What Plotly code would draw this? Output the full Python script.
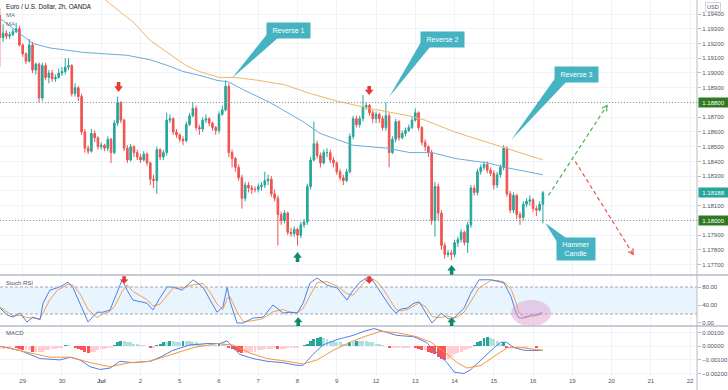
import numpy as np
import plotly.graph_objects as go

# ---------------- data (EUR/USD 2h, OANDA) ----------------
# candle index 0 = first 2h candle of 29 Jun; 12 candles per trading day
day_ticks = [0, 12, 24, 36, 48, 60, 72, 84, 96, 108, 120, 132, 144, 156, 168, 180, 192, 204]
day_labels = ["29", "30", "<b>Jul</b>", "2", "5", "6", "7", "8", "9", "12", "13", "14",
              "15", "16", "19", "20", "21", "22"]
first_candle = -7
first_open = 1.1939

close = [
    1.1924, 1.1927, 1.1925, 1.1926, 1.1928, 1.1930, 1.1919,
    1.1913, 1.1908, 1.1919, 1.1902, 1.1906, 1.1883, 1.1905, 1.1897, 1.1900, 1.1896, 1.1897, 1.1900,
    1.1901, 1.1904, 1.1905, 1.1886, 1.1890, 1.1884, 1.1860, 1.1849, 1.1847, 1.1859, 1.1856, 1.1850,
    1.1851, 1.1849, 1.1855, 1.1846, 1.1866, 1.1880, 1.1868, 1.1849, 1.1841, 1.1850, 1.1846, 1.1843,
    1.1841, 1.1845, 1.1839, 1.1828, 1.1827, 1.1848, 1.1843, 1.1846, 1.1868, 1.1869, 1.1860, 1.1858,
    1.1855, 1.1854, 1.1865, 1.1871, 1.1876, 1.1863, 1.1862, 1.1868, 1.1869, 1.1866, 1.1863, 1.1861,
    1.1872, 1.1875, 1.1891, 1.1846, 1.1842, 1.1836, 1.1829, 1.1815, 1.1824, 1.1822, 1.1821, 1.1821,
    1.1823, 1.1824, 1.1827, 1.1828, 1.1818, 1.1815, 1.1804, 1.1800, 1.1805, 1.1792, 1.1791, 1.1794,
    1.1790, 1.1797, 1.1799, 1.1823, 1.1841, 1.1852, 1.1844, 1.1839, 1.1846, 1.1846, 1.1841, 1.1839,
    1.1833, 1.1829, 1.1827, 1.1833, 1.1857, 1.1869, 1.1865, 1.1869, 1.1877, 1.1878, 1.1873, 1.1869,
    1.1872, 1.1869, 1.1863, 1.1871, 1.1846, 1.1855, 1.1867, 1.1856, 1.1859, 1.1861, 1.1863, 1.1868,
    1.1873, 1.1863, 1.1853, 1.1850, 1.1846, 1.1800, 1.1823, 1.1805, 1.1783, 1.1777, 1.1778, 1.1777,
    1.1785, 1.1787, 1.1792, 1.1785, 1.1797, 1.1822, 1.1819, 1.1833, 1.1836, 1.1838, 1.1834, 1.1832,
    1.1824, 1.1831, 1.1836, 1.1849, 1.1818, 1.1807, 1.1817, 1.1804, 1.1802, 1.1811, 1.1813, 1.1814,
    1.1808, 1.1807, 1.1811, 1.18188,
]
high = [
    1.1944, 1.1933, 1.1929, 1.1928, 1.1930, 1.1934, 1.1932,
    1.1920, 1.1914, 1.1923, 1.1921, 1.1907, 1.1907, 1.1907, 1.1907, 1.1902, 1.1902, 1.1899, 1.1903,
    1.1904, 1.1910, 1.1910, 1.1906, 1.1893, 1.1891, 1.1886, 1.1862, 1.1851, 1.1862, 1.1861, 1.1857,
    1.1853, 1.1852, 1.1857, 1.1856, 1.1868, 1.1884, 1.1881, 1.1869, 1.1851, 1.1852, 1.1851, 1.1848,
    1.1845, 1.1847, 1.1846, 1.1840, 1.1831, 1.1850, 1.1849, 1.1848, 1.1873, 1.1872, 1.1870, 1.1862,
    1.1859, 1.1857, 1.1867, 1.1873, 1.1880, 1.1878, 1.1865, 1.1870, 1.1872, 1.1870, 1.1867, 1.1864,
    1.1874, 1.1878, 1.1895, 1.1893, 1.1848, 1.1843, 1.1838, 1.1831, 1.1826, 1.1826, 1.1824, 1.1823,
    1.1825, 1.1826, 1.1833, 1.1831, 1.1830, 1.1821, 1.1817, 1.1806, 1.1807, 1.1806, 1.1795, 1.1796,
    1.1795, 1.1799, 1.1801, 1.1825, 1.1843, 1.1867, 1.1854, 1.1846, 1.1848, 1.1849, 1.1848, 1.1843,
    1.1840, 1.1835, 1.1831, 1.1835, 1.1859, 1.1871, 1.1871, 1.1871, 1.1885, 1.1880, 1.1879, 1.1875,
    1.1874, 1.1873, 1.1871, 1.1880, 1.1873, 1.1857, 1.1869, 1.1868, 1.1861, 1.1863, 1.1865, 1.1870,
    1.1876, 1.1874, 1.1864, 1.1855, 1.1851, 1.1848, 1.1826, 1.1825, 1.1807, 1.1785, 1.1780, 1.1780,
    1.1787, 1.1789, 1.1794, 1.1793, 1.1799, 1.1824, 1.1824, 1.1835, 1.1838, 1.1840, 1.1840, 1.1836,
    1.1834, 1.1833, 1.1838, 1.1851, 1.1850, 1.1820, 1.1819, 1.1818, 1.1806, 1.1813, 1.1815, 1.1817,
    1.1815, 1.1810, 1.1813, 1.1820,
]
low = [
    1.1904, 1.1921, 1.1923, 1.1923, 1.1925, 1.1927, 1.1918,
    1.1911, 1.1906, 1.1907, 1.1900, 1.1899, 1.1880, 1.1881, 1.1895, 1.1893, 1.1894, 1.1894, 1.1896,
    1.1898, 1.1899, 1.1902, 1.1884, 1.1884, 1.1881, 1.1858, 1.1846, 1.1845, 1.1846, 1.1853, 1.1848,
    1.1848, 1.1847, 1.1847, 1.1839, 1.1845, 1.1864, 1.1866, 1.1847, 1.1839, 1.1840, 1.1843, 1.1841,
    1.1839, 1.1840, 1.1837, 1.1824, 1.1822, 1.1818, 1.1841, 1.1841, 1.1844, 1.1866, 1.1858, 1.1856,
    1.1853, 1.1851, 1.1853, 1.1864, 1.1870, 1.1861, 1.1858, 1.1860, 1.1866, 1.1864, 1.1861, 1.1858,
    1.1859, 1.1871, 1.1874, 1.1843, 1.1836, 1.1833, 1.1827, 1.1808, 1.1813, 1.1819, 1.1818, 1.1819,
    1.1819, 1.1820, 1.1822, 1.1824, 1.1816, 1.1813, 1.1783, 1.1797, 1.1798, 1.1790, 1.1789, 1.1789,
    1.1783, 1.1788, 1.1795, 1.1797, 1.1821, 1.1840, 1.1842, 1.1836, 1.1838, 1.1843, 1.1839, 1.1836,
    1.1831, 1.1827, 1.1824, 1.1826, 1.1832, 1.1855, 1.1863, 1.1863, 1.1867, 1.1875, 1.1871, 1.1866,
    1.1866, 1.1866, 1.1861, 1.1861, 1.1836, 1.1845, 1.1853, 1.1854, 1.1855, 1.1857, 1.1860, 1.1862,
    1.1867, 1.1861, 1.1851, 1.1847, 1.1843, 1.1797, 1.1789, 1.1800, 1.1780, 1.1774, 1.1775, 1.1773,
    1.1775, 1.1782, 1.1785, 1.1783, 1.1778, 1.1795, 1.1817, 1.1817, 1.1831, 1.1834, 1.1832, 1.1830,
    1.1821, 1.1822, 1.1829, 1.1834, 1.1816, 1.1805, 1.1805, 1.1801, 1.1797, 1.1800, 1.1809, 1.1810,
    1.1806, 1.1803, 1.1806, 1.1798,
]

# moving averages (read at candle positions)
ma_blue_x = [-6.9, -0.8, 3.1, 8.3, 18.4, 31.9, 38.9, 44.4, 49.0, 54.8, 59.4, 62.8, 68.0, 75.6,
             85.7, 90.9, 101.0, 111.4, 118.4, 125.1, 132.2, 142.2, 147.4, 159.0]
ma_blue = [1.1937, 1.1927, 1.1920, 1.1917, 1.1914, 1.1912, 1.1909, 1.1905, 1.1901, 1.1898, 1.1895,
           1.1894, 1.1888, 1.1880, 1.1867, 1.1859, 1.1851, 1.1849, 1.1846, 1.1846, 1.1842, 1.1839,
           1.1836, 1.1831]
ma_orange_x = [11, 25, 34, 39, 50, 54, 60, 65, 72, 80, 88, 96, 106, 118, 123, 132, 142, 152, 159]
ma_orange = [1.1977, 1.1950, 1.1934, 1.1922, 1.1905, 1.1901, 1.1897, 1.1897, 1.1895, 1.1892,
             1.1886, 1.1881, 1.1876, 1.1871, 1.1868, 1.1860, 1.1853, 1.1846, 1.1841]

# Stoch RSI
stoch_x = [-6.9, -4.8, -3.0, -0.8, 1.3, 3.1, 5.3, 6.2, 8.3, 10.5, 12.3, 13.8, 15.4, 17.5, 20.0,
           22.7, 24.5, 26.7, 28.2, 30.4, 31.9, 33.7, 38.0, 39.8, 42.0, 44.1, 46.0, 48.7, 52.1,
           55.1, 57.3, 59.4, 61.2, 62.5, 63.4, 65.5, 67.4, 70.4, 73.5, 76.5, 79.6, 81.7, 83.9,
           85.7, 87.8, 90.0, 93.0, 96.1, 99.1, 101.0, 103.1, 105.0, 106.5, 108.3, 110.5, 112.6,
           114.1, 115.6, 117.5, 119.6, 121.2, 123.3, 125.1, 127.9, 129.7, 131.3, 132.8, 134.9,
           137.0, 139.5, 143.2, 145.6, 147.1, 149.3, 150.8, 151.7, 153.3, 155.4, 157.2, 158.7]
stoch_k = [33, 18, 13, 22, 2, 13, 7, 44, 73, 78, 84, 91, 78, 44, 2, 24, 24, 29, 58, 96,
           73, 51, 44, 29, 56, 80, 80, 73, 96, 80, 51, 24, 36, 80, 47, 0, 0, 11, 13, 40,
           22, 24, 22, 44, 89, 100, 84, 78, 51, 73, 91, 100, 100, 80, 56, 33, 22, 31, 33, 44,
           47, 22, 0, 22, 11, 7, 18, 33, 67, 96, 96, 91, 89, 58, 22, 11, 11, 18, 18, 24]
stoch_d = [35, 25, 16, 17, 12, 11, 10, 22, 52, 72, 80, 86, 84, 65, 30, 12, 20, 26, 38, 70,
           85, 70, 52, 38, 42, 62, 78, 78, 85, 88, 68, 42, 30, 55, 58, 25, 3, 5, 10, 25,
           30, 24, 23, 32, 62, 90, 92, 82, 65, 62, 80, 95, 100, 92, 72, 48, 30, 27, 30, 38,
           45, 35, 14, 12, 16, 12, 13, 24, 48, 78, 95, 94, 91, 75, 45, 22, 14, 14, 17, 20]

# MACD (values in units of 1e-4)
macd_x = [-6.9, -0.8, 5.3, 11.4, 14.5, 17.5, 20.6, 23.6, 26.7, 29.7, 33.7, 38.9, 42.0, 45.9,
          51.1, 56.3, 60.3, 62.5, 64.3, 66.4, 70.4, 74.7, 79.6, 83.9, 85.7, 88.7, 91.8, 96.1,
          101.0, 104.3, 107.4, 110.5, 114.4, 119.6, 123.3, 126.7, 129.7, 131.9, 134.9, 137.0,
          140.1, 144.1, 146.2, 147.8, 150.2, 153.3, 156.3, 159.0]
macd_e4 = [0, -3, -9, -10, -8, -10, -15, -17, -16, -11, -12, -11, -8, -3, 1, 2, 2, 4, -1, -6,
           -9, -11, -12, -14, -14, -6, 1, 5, 8, 11, 13, 11, 8, 7, 3, -5, -12, -19, -20, -17,
           -10, -1, 3, 3, -1, -3, -3, -3]
signal_x = [-6.9, 3.1, 8.3, 14.5, 20.6, 26.7, 32.8, 38.9, 45.9, 52.1, 59.4, 64.3, 69.5, 74.7,
            80.8, 85.7, 90.0, 94.9, 100.1, 104.3, 109.5, 114.4, 120.5, 124.8, 128.8, 132.8,
            135.8, 140.1, 145.0, 148.1, 152.4, 156.3, 159.0]
signal_e4 = [0, -5, -8, -8, -12, -15, -12, -11, -6, -1, 2, 1, -5, -9, -11, -13, -10, -3, 3, 7,
             11, 10, 7, 3, -4, -12, -16, -14, -6, -1, -1, -2, -3]
hist_e4 = [-2, -2, -1, -1, 0, -1, -2, -3, -3, -3, -4, -4, -4,
           -4, -3, -3, -2, -2, -1, -1, 1, 1, 0, -1, -2, -3, -4, -5,
           -4, -4, -3, -2, -2, -1, -1, 1, 3, 4, 4, 3, 3, 2, 2, 1, 1,
           0, -1, -1, 1, 2, 3, 3, 4, 4, 3, 3, 4, 4, 4, 3, 3, 2, 2, 1, 1, 1,
           1, 2, 2, 2, -1, -2, -3, -4, -5, -5, -5, -4, -4, -3, -3, -2, -2, -2, -1,
           -2, -2, -2, -1, -1, -1, -1, 0, 1, 2, 4, 5, 6, 7, 6, 5, 4, 4, 3, 3, 2, 2,
           3, 3, 4, 4, 4, 4, 3, 3, 2, 2, 1, 0, -1, -1, -1, -1, -1, -1, -1, 0,
           -1, -2, -3, -3, -4, -5, -6, -8, -9, -10, -9, -8, -6, -5, -4, -3, -2, -1,
           1, 3, 4, 6, 7, 6, 5, 4, 2, 3, -1, -1, -1, -1, -1, -1, -1, 0, 0, -1, 0, 0]

price_ticks = [1.177, 1.178, 1.179, 1.180, 1.181, 1.182, 1.183, 1.184, 1.185, 1.186,
               1.187, 1.188, 1.189, 1.190, 1.191, 1.192, 1.193, 1.194]
hidden_ticks = [1.180, 1.182, 1.188]
stoch_ticks = [0, 40, 80]
macd_ticks = [-0.002, -0.001, 0.0, 0.001]
level_high = 1.18800
level_low = 1.18000

# annotation anchors (candle index, price)
callouts = [
    ("Reverse 1", 81.3, 1.19288, [(75.0, 1.19271), (78.0, 1.19237), (64.0, 1.18966)], 41, 13),
    ("Reverse 2", 128.2, 1.19227, [(122.1, 1.19224), (124.5, 1.19176), (112.0, 1.18837)], 41, 13),
    ("Reverse 3", 169.2, 1.18990, [(163.0, 1.18973), (166.1, 1.18939), (149.3, 1.18546)], 41, 13),
    ("Hammer<br>Candle", 169.1, 1.17807, [(163.3, 1.17854), (166.1, 1.17881), (159.7, 1.17983)], 36, 20),
]
proj_up = [(160.7, 1.1817), (178.6, 1.1878)]
proj_down = [(168.9, 1.1840), (186.6, 1.1777)]
price_sell_arrows = [(29.3, 1.18939, 1.18871), (105.9, 1.18912, 1.18851)]
price_buy_arrows = [(84.0, 1.17719, 1.17786), (131.1, 1.17632, 1.17698)]
stoch_sell_arrows = [(31.0, 104, 87), (105.9, 104, 87)]
stoch_buy_arrows = [(84.2, -6.5, 13), (131.1, -6.5, 13)]
stoch_ellipse = (149.3, 161.5, -7, 51)

# ---------------- layout geometry ----------------
W, H = 728, 390
MR, MB = 31, 14
PW, PH = W - MR, H - MB
H1, H2, H3 = 275, 51, 50
X_RANGE = [-6.94, 206.1]
P_RANGE = [1.17630, 1.19495]
S_RANGE = [-6.7, 106.7]
M_RANGE = [-0.00218, 0.00149]
dom1 = [1 - H1 / PH, 1]
dom2 = [H3 / PH, 1 - H1 / PH]
dom3 = [0, H3 / PH]
XS = PW / (X_RANGE[1] - X_RANGE[0])
YS = H1 / (P_RANGE[1] - P_RANGE[0])

UP, DOWN = "#26a69a", "#ef5350"
TEAL = "#45b3c2"
FONT = "Liberation Sans, Arial, sans-serif"
TXT = "#50535e"

n = min(len(close), len(high), len(low))
idx = np.arange(first_candle, first_candle + n)
c = np.array(close[:n])
o = np.concatenate([[first_open], c[:-1]])
h = np.maximum.reduce([np.array(high[:n]), o, c])
lo = np.minimum.reduce([np.array(low[:n]), o, c])

fig = go.Figure()
fig.add_trace(go.Candlestick(
    x=idx, open=o, high=h, low=lo, close=c, xaxis="x", yaxis="y",
    increasing=dict(line=dict(color=UP, width=1), fillcolor=UP),
    decreasing=dict(line=dict(color=DOWN, width=1), fillcolor=DOWN),
    whiskerwidth=0, showlegend=False, hoverinfo="skip"))
fig.add_trace(go.Scatter(x=ma_orange_x, y=ma_orange, mode="lines", xaxis="x", yaxis="y",
                         line=dict(color="#f3b463", width=1), hoverinfo="skip"))
fig.add_trace(go.Scatter(x=ma_blue_x, y=ma_blue, mode="lines", xaxis="x", yaxis="y",
                         line=dict(color="#6aacdc", width=1), hoverinfo="skip"))

# stoch
fig.add_trace(go.Scatter(x=stoch_x, y=stoch_d, mode="lines", xaxis="x2", yaxis="y2",
                         line=dict(color="#f5a04e", width=1), hoverinfo="skip"))
fig.add_trace(go.Scatter(x=stoch_x, y=stoch_k, mode="lines", xaxis="x2", yaxis="y2",
                         line=dict(color="#4f7fe8", width=1), hoverinfo="skip"))

# macd
hist = np.array(hist_e4) * 1e-4
hx = np.arange(first_candle, first_candle + len(hist))
hcol = []
for i, v in enumerate(hist):
    prev = hist[i - 1] if i > 0 else v
    if v >= 0:
        hcol.append("#26a69a" if v > prev else "#b2dfdb")
    else:
        hcol.append("#ff5252" if v < prev else "#ffcdd2")
fig.add_trace(go.Bar(x=hx, y=hist, marker=dict(color=hcol, line=dict(width=0)), width=0.9,
                     xaxis="x3", yaxis="y3", hoverinfo="skip"))
fig.add_trace(go.Scatter(x=macd_x, y=np.array(macd_e4) * 1e-4, mode="lines", xaxis="x3", yaxis="y3",
                         line=dict(color="#4f7fe8", width=1), hoverinfo="skip"))
fig.add_trace(go.Scatter(x=signal_x, y=np.array(signal_e4) * 1e-4, mode="lines", xaxis="x3", yaxis="y3",
                         line=dict(color="#f7953c", width=1), hoverinfo="skip"))

# ---------------- shapes ----------------
shapes = []
shapes.append(dict(type="rect", xref="paper", yref="y2", x0=0, x1=1, y0=20, y1=80,
                   fillcolor="rgba(33,150,243,0.10)", line=dict(width=0), layer="below"))
for lv in (20, 80):
    shapes.append(dict(type="line", xref="paper", yref="y2", x0=0, x1=1, y0=lv, y1=lv,
                       line=dict(color="#a3a6b0", width=1, dash="3px,2px")))
for lv in (level_high, level_low):
    shapes.append(dict(type="line", xref="paper", yref="y", x0=0, x1=1, y0=lv, y1=lv,
                       line=dict(color="#8c8f99", width=1, dash="1px,2px")))
shapes.append(dict(type="circle", xref="x2", yref="y2", x0=stoch_ellipse[0], x1=stoch_ellipse[1],
                   y0=stoch_ellipse[2], y1=stoch_ellipse[3],
                   fillcolor="rgba(222,150,205,0.45)", line=dict(width=0)))
for ysep in (dom1[0], dom2[0]):
    shapes.append(dict(type="line", xref="paper", yref="paper", x0=0, x1=W / PW, y0=ysep, y1=ysep,
                       line=dict(color="#c8cbd3", width=2)))
shapes.append(dict(type="line", xref="paper", yref="paper", x0=1, x1=1, y0=-MB / PH, y1=1,
                   line=dict(color="#b8bbc4", width=1)))


def to_px(j, p):
    return ((j - X_RANGE[0]) * XS, (P_RANGE[1] - p) * YS)


def from_px(px, py):
    return (X_RANGE[0] + px / XS, P_RANGE[1] - py / YS)


def v_head(start, end, color, size=6.0, ang=0.5):
    sx, sy = to_px(*start)
    ex, ey = to_px(*end)
    d = np.hypot(ex - sx, ey - sy)
    ux, uy = (sx - ex) / d, (sy - ey) / d
    pts = []
    for a in (ang, -ang):
        rx = ux * np.cos(a) - uy * np.sin(a)
        ry = ux * np.sin(a) + uy * np.cos(a)
        pts.append(from_px(ex + size * rx, ey + size * ry))
    path = (f"M {pts[0][0]:.4f} {pts[0][1]:.6f} L {end[0]:.4f} {end[1]:.6f} "
            f"L {pts[1][0]:.4f} {pts[1][1]:.6f}")
    return dict(type="path", path=path, xref="x", yref="y", line=dict(color=color, width=1.2))


for seg, col in ((proj_up, "#4caf50"), (proj_down, "#ef5350")):
    shapes.append(dict(type="line", xref="x", yref="y", x0=seg[0][0], y0=seg[0][1],
                       x1=seg[1][0], y1=seg[1][1], line=dict(color=col, width=1.2, dash="4px,3px")))
    shapes.append(v_head(seg[0], seg[1], col))


def block_arrow(xc, y_base, y_tip, xref, yref, color):
    sw, hw = 1.8 / XS, 4.3 / XS
    ym = y_base + 0.42 * (y_tip - y_base)
    pts = [(xc - sw, y_base), (xc + sw, y_base), (xc + sw, ym), (xc + hw, ym), (xc, y_tip),
           (xc - hw, ym), (xc - sw, ym)]
    path = "M " + " L ".join(f"{x:.4f} {y:.6f}" for x, y in pts) + " Z"
    return dict(type="path", path=path, xref=xref, yref=yref, fillcolor=color,
                line=dict(width=0), layer="above")


for a in price_sell_arrows:
    shapes.append(block_arrow(a[0], a[1], a[2], "x", "y", "#e53935"))
for a in price_buy_arrows:
    shapes.append(block_arrow(a[0], a[1], a[2], "x", "y", "#10896a"))
for a in stoch_sell_arrows:
    shapes.append(block_arrow(a[0], a[1], a[2], "x2", "y2", "#e53935"))
for a in stoch_buy_arrows:
    shapes.append(block_arrow(a[0], a[1], a[2], "x2", "y2", "#10896a"))

annotations = []
for text, cx, cy, tri, bw, bh in callouts:
    path = "M " + " L ".join(f"{x:.4f} {y:.6f}" for x, y in tri) + " Z"
    shapes.append(dict(type="path", path=path, xref="x", yref="y", fillcolor=TEAL,
                       line=dict(width=0), layer="above"))
    annotations.append(dict(text=text, x=cx, y=cy, xref="x", yref="y", showarrow=False,
                            bgcolor=TEAL, width=bw, height=bh, borderpad=1,
                            font=dict(color="white", size=7, family=FONT)))

# texts
annotations += [
    dict(text="Euro / U.S. Dollar, 2h, OANDA", x=0.006, y=1 - 7 / PH, xref="paper", yref="paper",
         xanchor="left", yanchor="middle", showarrow=False,
         font=dict(size=6.3, color="#131722", family=FONT)),
    dict(text="MA", x=0.006, y=1 - 15.5 / PH, xref="paper", yref="paper", xanchor="left",
         yanchor="middle", showarrow=False, font=dict(size=6, color="#6a6d78", family=FONT)),
    dict(text="MA", x=0.006, y=1 - 24 / PH, xref="paper", yref="paper", xanchor="left",
         yanchor="middle", showarrow=False, font=dict(size=6, color="#6a6d78", family=FONT)),
    dict(text="Stoch RSI", x=0.006, y=1 - 283 / PH, xref="paper", yref="paper", xanchor="left",
         yanchor="middle", showarrow=False, font=dict(size=6, color=TXT, family=FONT)),
    dict(text="MACD", x=0.006, y=1 - 333 / PH, xref="paper", yref="paper", xanchor="left",
         yanchor="middle", showarrow=False, font=dict(size=6, color=TXT, family=FONT)),
    dict(text="USD", x=1 + 16 / PW, y=1 - 7 / PH, xref="paper", yref="paper", xanchor="center",
         yanchor="middle", showarrow=False, bordercolor="#d1d4dc", borderwidth=1, borderpad=1,
         font=dict(size=5.5, color=TXT, family=FONT)),
]
for val, col in ((level_high, "#2f7a22"), (c[-1], UP), (level_low, "#2f7a22")):
    annotations.append(dict(text=f"{val:.5f}", x=1, y=val, xref="paper", yref="y",
                            xanchor="left", yanchor="middle", xshift=1, showarrow=False,
                            bgcolor=col, borderpad=1.5, width=26,
                            font=dict(size=6, color="white", family=FONT)))

price_text = ["" if any(abs(t - hv) < 1e-9 for hv in hidden_ticks) else f"{t:.5f}" for t in price_ticks]

axis_common = dict(showline=False, zeroline=False, gridcolor="#f0f3fa", gridwidth=1)
fig.update_layout(
    width=W, height=H, margin=dict(l=0, r=MR, t=0, b=MB),
    paper_bgcolor="white", plot_bgcolor="white", showlegend=False, bargap=0,
    font=dict(family=FONT, size=6, color=TXT),
    xaxis=dict(domain=[0, 1], anchor="y", range=X_RANGE, tickvals=day_ticks, showticklabels=False,
               rangeslider=dict(visible=False), ticks="", **axis_common),
    xaxis2=dict(domain=[0, 1], anchor="y2", matches="x", range=X_RANGE, tickvals=day_ticks,
                showticklabels=False, ticks="", **axis_common),
    xaxis3=dict(domain=[0, 1], anchor="y3", matches="x", range=X_RANGE, tickvals=day_ticks,
                ticktext=day_labels, showticklabels=True, ticks="", ticklen=0,
                tickfont=dict(size=6, color=TXT), **axis_common),
    yaxis=dict(domain=dom1, anchor="x", side="right", range=P_RANGE, tickvals=price_ticks,
               ticktext=price_text, ticks="outside", ticklen=3, tickcolor="#b8bbc4",
               tickfont=dict(size=6, color=TXT), **axis_common),
    yaxis2=dict(domain=dom2, anchor="x2", side="right", range=S_RANGE, tickvals=stoch_ticks,
                ticktext=[f"{t:.2f}" for t in stoch_ticks], ticks="outside", ticklen=3,
                tickcolor="#b8bbc4", tickfont=dict(size=6, color=TXT), showgrid=False,
                showline=False, zeroline=False),
    yaxis3=dict(domain=dom3, anchor="x3", side="right", range=M_RANGE, tickvals=macd_ticks,
                tickformat=".5f", ticks="outside", ticklen=3, tickcolor="#b8bbc4",
                tickfont=dict(size=6, color=TXT), **axis_common),
    shapes=shapes, annotations=annotations,
)

fig.write_html("out.html", config={"displayModeBar": False, "staticPlot": True},
               post_script="document.body.style.margin='0';document.body.style.overflow='hidden';")
